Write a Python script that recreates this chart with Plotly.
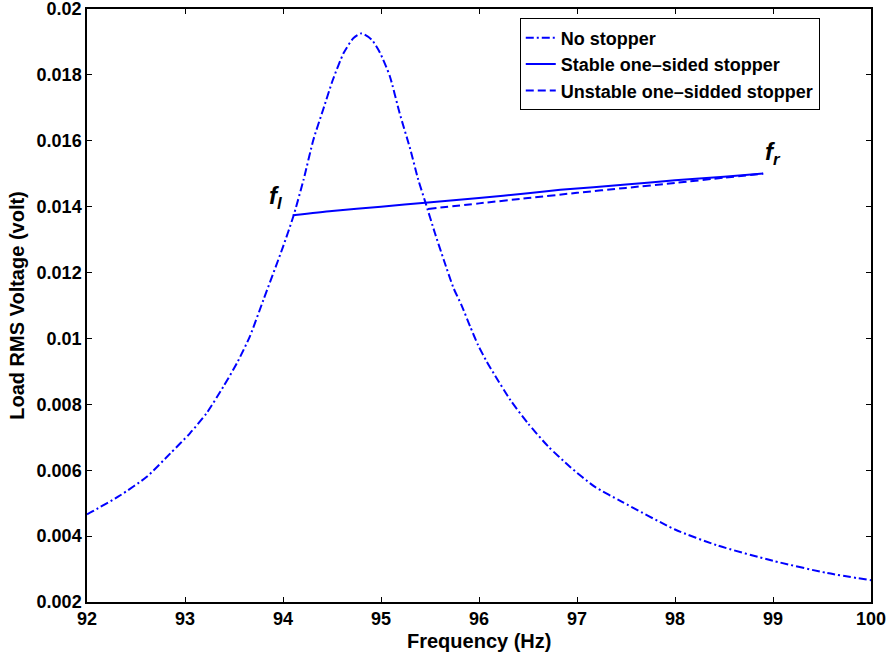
import plotly.graph_objects as go

# No stopper (dash-dot) response curve
freq_free = [92.0, 92.05, 92.34, 92.61, 92.85, 93.05, 93.22, 93.39, 93.53, 93.66, 93.80, 94.0,
             94.105, 94.21, 94.31, 94.41, 94.51, 94.62, 94.72, 94.80, 94.905, 94.99,
             95.09, 95.19, 95.30, 95.38, 95.45, 95.55, 95.64, 95.74, 95.82, 95.91, 95.99,
             96.08, 96.15, 96.32, 96.50, 96.71, 96.93, 97.18, 97.46, 98.0,
             98.43, 99.0, 99.55, 100.0]
volt_free = [0.00466, 0.00474, 0.00524, 0.00580, 0.00651, 0.00712, 0.00773, 0.00853, 0.00925, 0.01005, 0.01117, 0.01278,
             0.01370, 0.01482, 0.01603, 0.01695, 0.01786, 0.01867, 0.01912, 0.01926, 0.01907, 0.01867,
             0.01796, 0.01684, 0.01573, 0.01482, 0.01416, 0.01320, 0.01239, 0.01153, 0.01102, 0.01036, 0.00980,
             0.00929, 0.00894, 0.00813, 0.00742, 0.00671, 0.00610, 0.00550, 0.00504, 0.00420,
             0.00372, 0.00325, 0.00288, 0.00266]

# Stable one-sided stopper branch
freq_stable = [94.1, 94.5, 95.0, 95.48, 96.0, 96.5, 96.83, 97.5, 98.0, 98.5, 98.9]
volt_stable = [0.01374, 0.01387, 0.01400, 0.01413, 0.01426, 0.01441, 0.01451, 0.01467, 0.01480, 0.01491, 0.01501]

# Unstable one-sided stopper branch
freq_unstable = [95.48, 96.0, 96.5, 97.0, 97.5, 98.0, 98.5, 98.9]
volt_unstable = [0.01393, 0.01410, 0.01426, 0.01442, 0.01457, 0.01472, 0.01488, 0.01500]

x_ticks = [92, 93, 94, 95, 96, 97, 98, 99, 100]
y_ticks = [0.002, 0.004, 0.006, 0.008, 0.01, 0.012, 0.014, 0.016, 0.018, 0.02]
y_tick_text = ["0.002", "0.004", "0.006", "0.008", "0.01", "0.012", "0.014", "0.016", "0.018", "0.02"]

FONT = "Liberation Sans, Arial, Helvetica, sans-serif"
BLUE = "#0000ff"

fig = go.Figure()
fig.add_trace(go.Scatter(x=freq_free, y=volt_free, mode="lines", name="No stopper",
                         line=dict(color=BLUE, width=2, dash="8px,3px,2px,3px", shape="spline", smoothing=0.6)))
fig.add_trace(go.Scatter(x=freq_stable, y=volt_stable, mode="lines", name="Stable one\u2013sided stopper",
                         line=dict(color=BLUE, width=2, shape="spline", smoothing=0.6)))
fig.add_trace(go.Scatter(x=freq_unstable, y=volt_unstable, mode="lines", name="Unstable one\u2013sidded stopper",
                         line=dict(color=BLUE, width=2, dash="8px,4px", shape="spline", smoothing=0.6)))

fig.add_annotation(x=freq_stable[0], y=volt_stable[0], text="<b><i>f</i></b><sub><b><i>l</i></b></sub>",
                   showarrow=False, xanchor="right", yanchor="bottom", xshift=-9, yshift=0,
                   font=dict(family=FONT, size=24, color="black"))
fig.add_annotation(x=freq_stable[-1], y=volt_stable[-1], text="<b><i>f</i></b><sub><b><i>r</i></b></sub>",
                   showarrow=False, xanchor="left", yanchor="bottom", xshift=0, yshift=2,
                   font=dict(family=FONT, size=24, color="black"))
# x axis title placed as an annotation to sit close to the tick labels
fig.add_annotation(x=0.5, y=0, xref="paper", yref="paper", text="Frequency (Hz)",
                   showarrow=False, xanchor="center", yanchor="top", yshift=-26,
                   font=dict(family=FONT, size=20, color="black", weight="bold"))

axis_common = dict(showline=True, linecolor="black", linewidth=1.5, mirror="ticks",
                   ticks="inside", ticklen=5, tickwidth=1, tickcolor="black",
                   showgrid=False, zeroline=False, automargin=False,
                   ticklabeloverflow="allow",
                   tickfont=dict(family=FONT, size=18, color="black", weight="bold"))

fig.update_layout(
    width=887, height=652,
    margin=dict(l=87, r=16, t=9, b=50),
    paper_bgcolor="white", plot_bgcolor="white",
    font=dict(family=FONT, size=18, color="black", weight="bold"),
    xaxis=dict(range=[92, 100], tickvals=x_ticks, ticktext=[str(v) for v in x_ticks],
               **axis_common),
    yaxis=dict(range=[0.002, 0.02], tickvals=y_ticks, ticktext=y_tick_text,
               title=dict(text="Load RMS Voltage (volt)", standoff=7,
                          font=dict(family=FONT, size=20, color="black", weight="bold")),
               **axis_common),
    showlegend=True,
    legend=dict(x=0.552, y=0.984, xanchor="left", yanchor="top",
                bgcolor="white", bordercolor="black", borderwidth=1,
                font=dict(family=FONT, size=18, color="black", weight="bold"),
                tracegroupgap=0, itemwidth=30),
)

fig.write_html("out.html", config={"displayModeBar": False},
               post_script="document.body.style.margin='0';")
